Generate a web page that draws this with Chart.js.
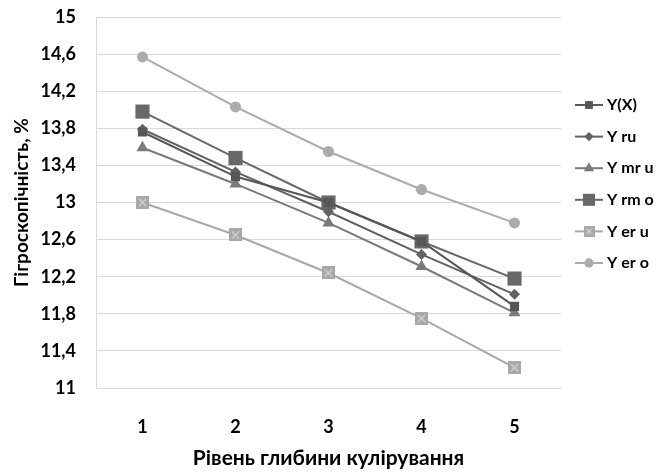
<!DOCTYPE html>
<html><head><meta charset="utf-8">
<script src="https://cdn.jsdelivr.net/npm/chart.js@4/dist/chart.umd.min.js"></script>
<style>html,body{margin:0;padding:0;background:#fff}#wrap{width:659px;height:473px}</style>
</head><body><div id="wrap"><canvas id="c" width="659" height="473"></canvas></div>
<script>
const categories = ['1', '2', '3', '4', '5'];
const yTickValues = [11, 11.4, 11.8, 12.2, 12.6, 13, 13.4, 13.8, 14.2, 14.6, 15];
const seriesNames = ['Y(X)', 'Y ru', 'Y mr u', 'Y rm o', 'Y er u', 'Y er o'];
const yX   = [13.76, 13.28, 13.00, 12.58, 11.88];
const yRu  = [13.79, 13.33, 12.90, 12.44, 12.01];
const yMrU = [13.59, 13.20, 12.78, 12.31, 11.81];
const yRmO = [13.98, 13.48, 13.00, 12.58, 12.18];
const yErU = [13.00, 12.65, 12.24, 11.75, 11.22];
const yErO = [14.57, 14.03, 13.55, 13.14, 12.78];
const xTitle = 'Рівень глибини кулірування';
const yTitle = 'Гігроскопічність, %';

const FONT = 'Lato, "Liberation Sans", sans-serif';

// boxed-X marker
function makeBoxX(size, fill, cross) {
  const cv = document.createElement('canvas');
  cv.width = size; cv.height = size;
  const g = cv.getContext('2d');
  g.fillStyle = fill; g.fillRect(0, 0, size, size);
  g.strokeStyle = cross; g.lineWidth = 1.5;
  g.beginPath(); g.moveTo(3, 3); g.lineTo(size - 3, size - 3);
  g.moveTo(size - 3, 3); g.lineTo(3, size - 3); g.stroke();
  return cv;
}
const boxX = makeBoxX(13, '#a8a8a8', '#cfcfcf');
const boxXSmall = makeBoxX(11, '#a8a8a8', '#cfcfcf');

const styles = [
  {color: '#575757', point: 'rect', r: 6.5},
  {color: '#626262', point: 'rectRot', r: 5.5},
  {color: '#7a7a7a', point: 'triangle', r: 7},
  {color: '#686868', point: 'rect', r: 10},
  {color: '#a8a8a8', point: boxX, r: 6.5},
  {color: '#ababab', point: 'circle', r: 5.5}
];
const seriesData = [yX, yRu, yMrU, yRmO, yErU, yErO];

const datasets = seriesNames.map((n, i) => ({
  label: n,
  data: seriesData[i],
  borderColor: styles[i].color,
  backgroundColor: styles[i].color,
  borderWidth: 2,
  pointStyle: styles[i].point,
  pointRadius: styles[i].r,
  pointHoverRadius: styles[i].r,
  pointBorderWidth: 0,
  pointBackgroundColor: styles[i].color,
  pointBorderColor: styles[i].color,
  tension: 0
}));

const customLegend = {
  id: 'customLegend',
  afterDraw(chart) {
    const ctx = chart.ctx;
    const x0 = 575, x1 = 603, xm = 589, xt = 607;
    const y0 = 105, dy = 31.6;
    ctx.save();
    chart.data.datasets.forEach((ds, i) => {
      const y = y0 + i * dy;
      ctx.strokeStyle = ds.borderColor; ctx.lineWidth = 2;
      ctx.beginPath(); ctx.moveTo(x0, y); ctx.lineTo(x1, y); ctx.stroke();
      ctx.fillStyle = ds.borderColor; ctx.strokeStyle = ds.borderColor;
      const ps = (ds.pointStyle === boxX) ? boxXSmall : ds.pointStyle;
      Chart.helpers.drawPoint(ctx, {pointStyle: ps, radius: ds.pointRadius * 0.85, borderWidth: 0, rotation: 0}, xm, y);
      ctx.fillStyle = '#000';
      ctx.font = 'bold 16px ' + FONT;
      ctx.textBaseline = 'middle'; ctx.textAlign = 'left';
      ctx.fillText(ds.label, xt, y);
    });
    ctx.restore();
  }
};

new Chart(document.getElementById('c'), {
  type: 'line',
  data: {labels: categories, datasets},
  options: {
    responsive: false,
    animation: false,
    layout: {autoPadding: false, padding: {top: 17, right: 98, left: 0, bottom: 0}},
    plugins: {legend: {display: false}, tooltip: {enabled: false}},
    scales: {
      x: {
        offset: true,
        grid: {display: false, drawTicks: false},
        border: {display: false},
        ticks: {color: '#000', font: {family: FONT, size: 18, weight: 'bold'}, padding: 28, maxRotation: 0},
        title: {display: true, text: xTitle, color: '#000', font: {family: FONT, size: 21, weight: 'bold'}, padding: {top: 2, bottom: 2}},
        afterFit(s) { s.height = 85; s.paddingLeft = 0; s.paddingRight = 0; }
      },
      y: {
        min: 11, max: 15,
        afterBuildTicks(s) { s.ticks = yTickValues.map(v => ({value: v})); },
        grid: {color: '#d9d9d9', lineWidth: 1, drawTicks: false},
        border: {display: true, color: '#d9d9d9', width: 1},
        ticks: {color: '#000', font: {family: FONT, size: 18, weight: 'bold'}, padding: 20,
          callback: v => String(v).replace('.', ',')},
        title: {display: true, text: yTitle, color: '#000', font: {family: FONT, size: 19, weight: 'bold'}, padding: {top: 10, bottom: 0}},
        afterFit(s) { s.width = 96; s.paddingTop = 0; s.paddingBottom = 0; }
      }
    }
  },
  plugins: [customLegend]
});
</script>
</body></html>
